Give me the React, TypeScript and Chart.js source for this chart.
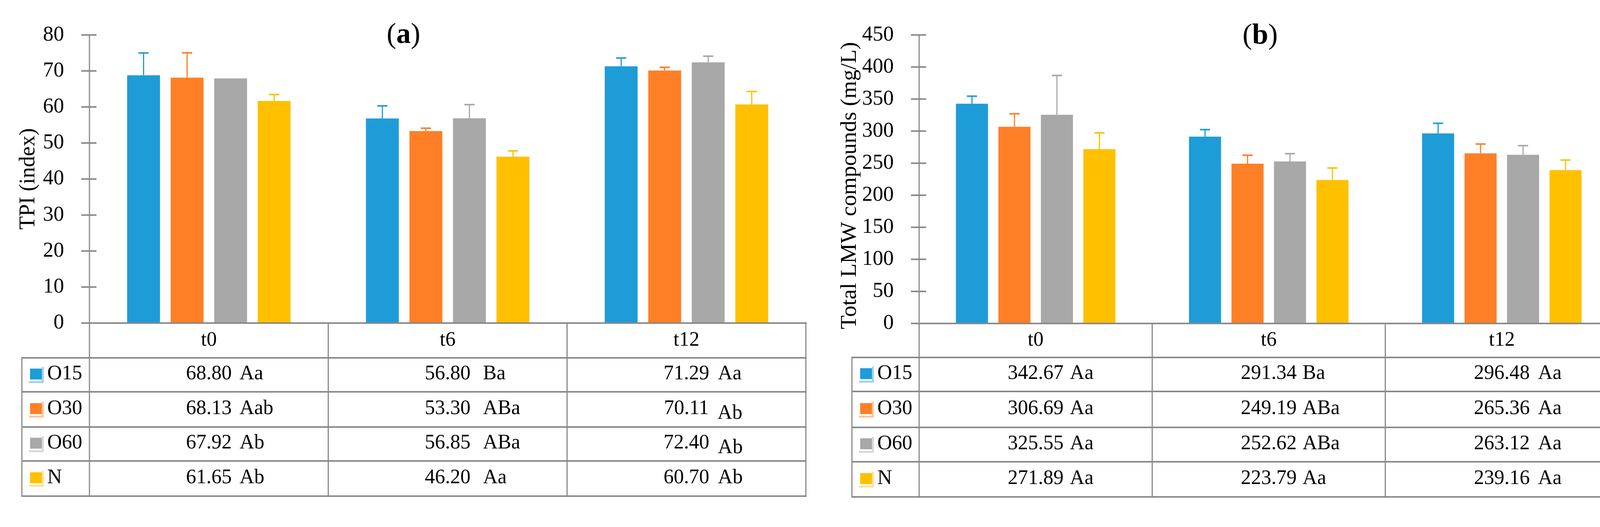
import React, { useEffect, useRef } from 'react';
import { Chart, registerables } from 'chart.js';

Chart.register(...registerables);

const H = 1349;
const SERIF = "'Liberation Serif', serif";
const GRAY = '#898989';

// ---------- shared ----------
const categories = ['t0', 't6', 't12'];
const seriesNames = ['O15', 'O30', 'O60', 'N'];
const seriesColors = ['#1E9CD8', '#FF7F27', '#A8A8A8', '#FFC000'];

// ---------- (a) TPI (index) ----------
const tpiO15 = [68.8, 56.8, 71.29];
const tpiO30 = [68.13, 53.3, 70.11];
const tpiO60 = [67.92, 56.85, 72.4];
const tpiN = [61.65, 46.2, 60.7];
const tpiErrO15 = [6.2, 3.5, 2.3];
const tpiErrO30 = [6.9, 0.8, 0.9];
const tpiErrO60 = [0, 3.8, 1.7];
const tpiErrN = [1.8, 1.6, 3.6];
const tpiLettersO15 = ['Aa', 'Ba', 'Aa'];
const tpiLettersO30 = ['Aab', 'ABa', 'Ab'];
const tpiLettersO60 = ['Ab', 'ABa', 'Ab'];
const tpiLettersN = ['Ab', 'Aa', 'Ab'];
const tpiTicks = [0, 10, 20, 30, 40, 50, 60, 70, 80];

// ---------- (b) Total LMW compounds (mg/L) ----------
const lmwO15 = [342.67, 291.34, 296.48];
const lmwO30 = [306.69, 249.19, 265.36];
const lmwO60 = [325.55, 252.62, 263.12];
const lmwN = [271.89, 223.79, 239.16];
const lmwErrO15 = [11.8, 11.0, 15.7];
const lmwErrO30 = [20.4, 13.2, 14.5];
const lmwErrO60 = [61.2, 12.2, 14.2];
const lmwErrN = [25.4, 18.7, 15.7];
const lmwLettersO15 = ['Aa', 'Ba', 'Aa'];
const lmwLettersO30 = ['Aa', 'ABa', 'Aa'];
const lmwLettersO60 = ['Aa', 'ABa', 'Aa'];
const lmwLettersN = ['Aa', 'Aa', 'Aa'];
const lmwTicks = [0, 50, 100, 150, 200, 250, 300, 350, 400, 450];

type Panel = {
  tag: string;
  canvasLeft: number;
  canvasWidth: number;
  area: { left: number; right: number; top: number; bottom: number };
  values: number[][];
  errors: number[][];
  letters: string[][];
  tickValues: number[];
  yTitle: string;
  yTitleSize: number;
  yTitleBaselineX: number;
  yTitleCenterY: number;
  tagCenterX: number;
  tagBaselineY: number;
  tableLeft: number;
  rowLines: number[];
  letterGaps: number[];
  lowered: string[];
};

const panelA: Panel = {
  tag: 'a',
  canvasLeft: 0,
  canvasWidth: 2111,
  area: { left: 229, right: 2063, top: 84, bottom: 827 },
  values: [tpiO15, tpiO30, tpiO60, tpiN],
  errors: [tpiErrO15, tpiErrO30, tpiErrO60, tpiErrN],
  letters: [tpiLettersO15, tpiLettersO30, tpiLettersO60, tpiLettersN],
  tickValues: tpiTicks,
  yTitle: 'TPI (index)',
  yTitleSize: 56,
  yTitleBaselineX: 88,
  yTitleCenterY: 458,
  tagCenterX: 1033,
  tagBaselineY: 110,
  tableLeft: 56,
  rowLines: [916, 1003, 1093, 1180, 1270],
  letterGaps: [20, 32, 22],
  lowered: ['1,2', '2,2'],
};

const panelB: Panel = {
  tag: 'b',
  canvasLeft: 2111,
  canvasWidth: 2111,
  area: { left: 242, right: 2032, top: 72, bottom: 828 },
  values: [lmwO15, lmwO30, lmwO60, lmwN],
  errors: [lmwErrO15, lmwErrO30, lmwErrO60, lmwErrN],
  letters: [lmwLettersO15, lmwLettersO30, lmwLettersO60, lmwLettersN],
  tickValues: lmwTicks,
  yTitle: 'Total LMW compounds (mg/L)',
  yTitleSize: 58,
  yTitleBaselineX: 80,
  yTitleCenterY: 475,
  tagCenterX: 1115,
  tagBaselineY: 112,
  tableLeft: 70,
  rowLines: [915, 1002, 1094, 1182, 1272],
  letterGaps: [16, 15, 21],
  lowered: [],
};

function lighten(hex: string, amt: number) {
  const n = parseInt(hex.slice(1), 16);
  const r = (n >> 16) & 255, g = (n >> 8) & 255, b = n & 255;
  const m = (c: number) => Math.round(c + (255 - c) * amt);
  return `rgb(${m(r)},${m(g)},${m(b)})`;
}

function makePlugin(p: Panel) {
  return {
    id: 'decor_' + p.tag,
    afterDraw(chart: any) {
      const ctx: CanvasRenderingContext2D = chart.ctx;
      const xs = chart.scales.x;
      const ys = chart.scales.y;
      const area = chart.chartArea;
      const tableBottom = p.rowLines[p.rowLines.length - 1];
      const catW = (area.right - area.left) / categories.length;
      const line = (x1: number, y1: number, x2: number, y2: number, w: number, c: string) => {
        ctx.strokeStyle = c;
        ctx.lineWidth = w;
        ctx.beginPath();
        ctx.moveTo(x1, y1);
        ctx.lineTo(x2, y2);
        ctx.stroke();
      };
      ctx.save();
      ctx.lineCap = 'butt';

      // error bars (plus direction)
      chart.data.datasets.forEach((ds: any, i: number) => {
        const meta = chart.getDatasetMeta(i);
        meta.data.forEach((el: any, j: number) => {
          const err = p.errors[i][j];
          if (!err) return;
          const yTop = ys.getPixelForValue(ds.data[j] + err);
          line(el.x, el.y, el.x, yTop, 3, seriesColors[i]);
          line(el.x - 13, yTop, el.x + 13, yTop, 4, seriesColors[i]);
        });
      });

      // y axis line + crossing tick marks
      line(area.left, area.top, area.left, tableBottom, 3, GRAY);
      ys.ticks.forEach((t: any) => {
        const y = ys.getPixelForValue(t.value);
        line(area.left - 21, y, area.left + 18, y, 4, GRAY);
      });
      // x axis line
      line(area.left - 21, area.bottom, area.right + 2, area.bottom, 4, GRAY);

      // table grid
      for (let k = 1; k <= categories.length; k++) {
        const x = area.left + k * catW;
        line(x, area.bottom, x, tableBottom + 2, 3, GRAY);
      }
      line(p.tableLeft, p.rowLines[0], p.tableLeft, tableBottom + 2, 3, GRAY);
      p.rowLines.forEach((y) => line(p.tableLeft - 1, y, area.right + 2, y, 4, GRAY));

      // header labels
      ctx.fillStyle = '#000';
      ctx.font = `52px ${SERIF}`;
      ctx.textBaseline = 'middle';
      ctx.textAlign = 'center';
      categories.forEach((c, k) => {
        ctx.fillText(c, xs.getPixelForValue(k), (area.bottom + p.rowLines[0]) / 2);
      });

      // rows
      seriesNames.forEach((name, i) => {
        const cy = (p.rowLines[i] + p.rowLines[i + 1]) / 2 - 2;
        const bx = p.tableLeft + 21;
        ctx.fillStyle = lighten(seriesColors[i], 0.55);
        ctx.fillRect(bx - 3, cy - 18, 38, 41);
        ctx.fillStyle = '#fff';
        ctx.fillRect(bx - 3, cy - 18, 33, 36);
        ctx.fillStyle = seriesColors[i];
        ctx.fillRect(bx, cy - 14, 30, 28);
        ctx.fillStyle = '#000';
        ctx.textAlign = 'left';
        ctx.font = `52px ${SERIF}`;
        ctx.fillText(name, bx + 44, cy);
        categories.forEach((c, k) => {
          const cx = xs.getPixelForValue(k);
          const num = p.values[i][k].toFixed(2);
          const w = ctx.measureText(num).width;
          ctx.fillText(num, cx - w / 2, cy);
          const dy = p.lowered.includes(`${i},${k}`) ? 12 : 0;
          ctx.fillText(p.letters[i][k], cx + w / 2 + p.letterGaps[k], cy + dy);
        });
      });

      // y title
      ctx.save();
      ctx.translate(p.yTitleBaselineX, p.yTitleCenterY);
      ctx.rotate(-Math.PI / 2);
      ctx.textAlign = 'center';
      ctx.textBaseline = 'alphabetic';
      ctx.font = `${p.yTitleSize}px ${SERIF}`;
      ctx.fillStyle = '#000';
      ctx.fillText(p.yTitle, 0, 0);
      ctx.restore();

      // panel tag "(a)" with bold letter
      ctx.textBaseline = 'alphabetic';
      ctx.textAlign = 'left';
      const fN = `74px ${SERIF}`;
      const fB = `bold 74px ${SERIF}`;
      ctx.font = fN;
      const wp = ctx.measureText('(').width;
      const wq = ctx.measureText(')').width;
      ctx.font = fB;
      const wl = ctx.measureText(p.tag).width;
      let x0 = p.tagCenterX - (wp + wl + wq) / 2;
      ctx.font = fN;
      ctx.fillText('(', x0, p.tagBaselineY);
      ctx.font = fB;
      ctx.fillText(p.tag, x0 + wp, p.tagBaselineY);
      ctx.font = fN;
      ctx.fillText(')', x0 + wp + wl, p.tagBaselineY);

      ctx.restore();
    },
  };
}

function PanelChart({ p }: { p: Panel }) {
  const ref = useRef<HTMLCanvasElement>(null);
  useEffect(() => {
    const canvas = ref.current;
    if (!canvas) return;
    const chart = new Chart(canvas, {
      type: 'bar',
      data: {
        labels: categories,
        datasets: seriesNames.map((name, i) => ({
          label: name,
          data: p.values[i],
          backgroundColor: seriesColors[i],
          borderWidth: 0,
          categoryPercentage: 0.729,
          barPercentage: 0.755,
        })),
      },
      options: {
        responsive: false,
        animation: false,
        devicePixelRatio: 1,
        layout: {
          padding: {
            left: 0,
            right: p.canvasWidth - p.area.right,
            top: p.area.top,
            bottom: H - p.area.bottom,
          },
        },
        plugins: { legend: { display: false }, tooltip: { enabled: false } },
        scales: {
          x: { display: false, grid: { display: false } },
          y: {
            min: 0,
            max: p.tickValues[p.tickValues.length - 1],
            afterBuildTicks: (s: any) => {
              s.ticks = p.tickValues.map((v) => ({ value: v }));
            },
            afterFit: (s: any) => {
              s.width = p.area.left;
            },
            grid: { display: false },
            border: { display: false },
            ticks: { color: '#000', font: { family: SERIF, size: 54 }, padding: 57 },
          },
        },
      } as any,
      plugins: [makePlugin(p)],
    });
    return () => chart.destroy();
  }, [p]);
  return (
    <canvas
      ref={ref}
      width={p.canvasWidth}
      height={H}
      style={{ position: 'absolute', left: p.canvasLeft, top: 0, width: p.canvasWidth, height: H }}
    />
  );
}

export default function App() {
  return (
    <div
      style={{
        position: 'absolute',
        left: 0,
        top: 0,
        width: 4222,
        height: H,
        background: '#fff',
        overflow: 'hidden',
      }}
    >
      <PanelChart p={panelA} />
      <PanelChart p={panelB} />
    </div>
  );
}
